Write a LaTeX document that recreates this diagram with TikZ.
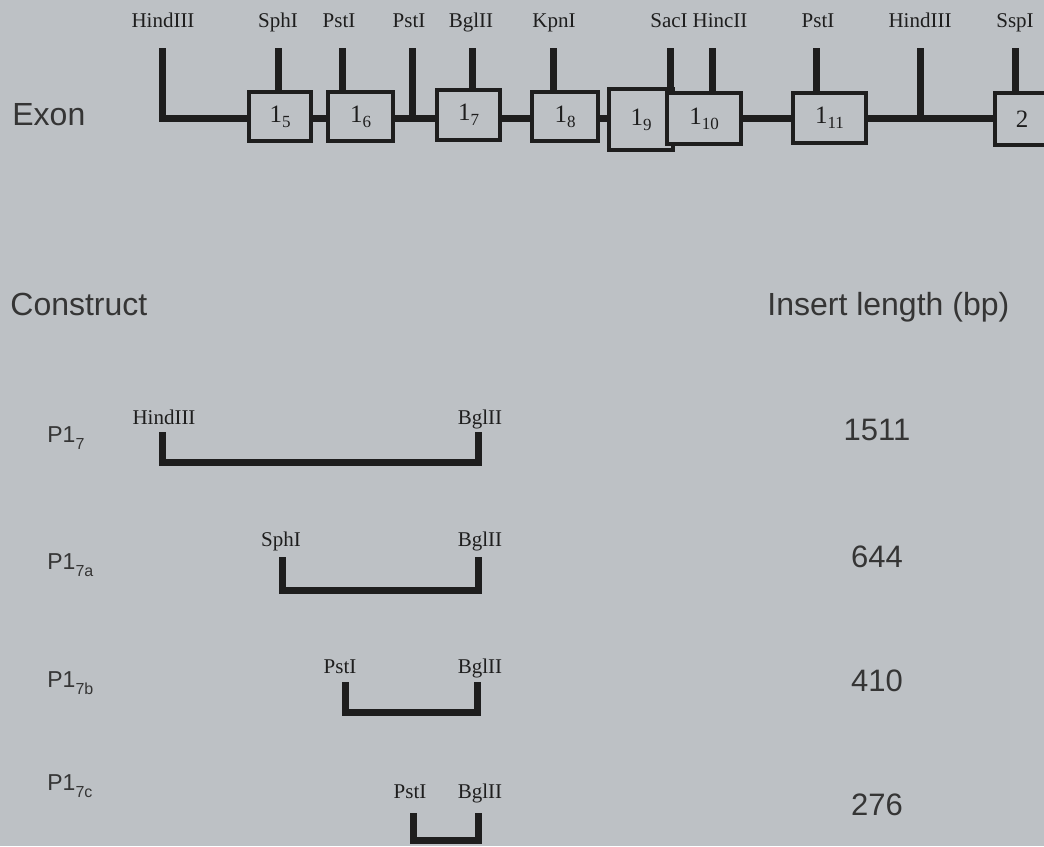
\documentclass[tikz,border=0pt]{standalone}
\usepackage{fontspec}
\setmainfont{Liberation Serif}
\newfontfamily\arialfont{Liberation Sans}
\usetikzlibrary{positioning}
\definecolor{paper}{RGB}{189,193,197}
\definecolor{ink}{RGB}{30,30,30}
\newcommand{\exonlab}[2]{#1\raisebox{-0.45ex}{\fontsize{8.5}{9}\selectfont #2}}
\newcommand{\conslab}[1]{P1\raisebox{-0.6ex}{\fontsize{8}{9}\selectfont #1}}
\tikzset{
  site/.style={font=\fontsize{10.5}{12}\selectfont, text=ink, inner sep=0pt, anchor=base},
  head/.style={font=\arialfont\fontsize{16}{19}\selectfont, text=ink!90, inner sep=0pt, anchor=base west},
  cons/.style={font=\arialfont\fontsize{11.5}{13}\selectfont, text=ink!90, inner sep=0pt, anchor=base west},
  bp/.style={font=\arialfont\fontsize{15.5}{18}\selectfont, text=ink!90, inner sep=0pt, anchor=base},
  exon/.style={draw=ink, line width=1.7pt, fill=paper, inner sep=0pt, font=\fontsize{12.5}{14}\selectfont, text=ink},
  cut/.style={draw=ink, line width=3.5pt},
  insert/.style={draw=ink, line width=3.5pt, line join=miter}
}
\begin{document}
\begin{tikzpicture}[x=0.5pt, y=-0.5pt]
    \fill[paper] (0,0) rectangle (1044,846);
    \useasboundingbox (0,0) rectangle (1044,846);
    \clip (0,0) rectangle (1044,846);
    % gene backbone
    \coordinate (hA) at (162,48);
    \coordinate (e2w) at (995,118);
    \draw[cut, line join=miter] (hA) -- (162,118) -- (e2w);
    % restriction sites on the gene
    \foreach \tx/\lx/\name [count=\i] in {162/163/HindIII, 278/278/SphI, 342/339/PstI, 412/409/PstI,
        472/471/BglII, 553/554/KpnI, 670/669/SacI, 712/720/HincII, 816/818/PstI, 920/920/HindIII, 1015/1015/SspI} {
      \node[site] (s\i) at (\lx,27) {\name};
      \coordinate (k\i) at (\tx,48);
      \coordinate (b\i) at (\tx,118);
      \draw[cut] (k\i) -- (b\i);
    }
    % exons
    \foreach \n/\cx/\cy/\w/\h in {5/280/116.5/62/49, 6/360.5/116.5/65/49, 7/468.5/115/63/50, 8/565/116.5/66/49,
        9/641/119.5/64/61, 10/704/118.5/74/51, 11/829.5/118/73/50} {
      \node[exon, minimum width=\w*0.5pt, minimum height=\h*0.5pt] (e\n) at (\cx,\cy) {\exonlab{1}{\n}};
    }
    \node[exon, minimum width=27pt, minimum height=26pt] (e2) at (1022,119) {2};
    \node[head] (exon) at (12,125) {Exon};
    % constructs
    \node[head] (construct) at (10,315) {Construct};
    \node[head] (insert) at (767,315) {Insert length (bp)};

    \node[cons] (p7) at (47,442) {\conslab{7}};
    \node[site] (h7) at (164,424) {HindIII};
    \node[site] (g7) at (480,424) {BglII};
    \coordinate (h7t) at (162,432);
    \coordinate (g7t) at (478,432);
    \draw[insert] (h7t) -- ++(0,30) -| (g7t);
    \node[bp] (n7) at (877,440) {1511};

    \node[cons] (p7a) at (47,569) {\conslab{7a}};
    \node[site] (s7a) at (281,546) {SphI};
    \node[site] (g7a) at (480,546) {BglII};
    \coordinate (s7at) at (282,557);
    \coordinate (g7at) at (478,557);
    \draw[insert] (s7at) -- ++(0,33) -| (g7at);
    \node[bp] (n7a) at (877,567) {644};

    \node[cons] (p7b) at (47,687) {\conslab{7b}};
    \node[site] (q7b) at (340,673) {PstI};
    \node[site] (g7b) at (480,673) {BglII};
    \coordinate (q7bt) at (345,682);
    \coordinate (g7bt) at (477,682);
    \draw[insert] (q7bt) -- ++(0,30) -| (g7bt);
    \node[bp] (n7b) at (877,691) {410};

    \node[cons] (p7c) at (47,790) {\conslab{7c}};
    \node[site] (q7c) at (410,798) {PstI};
    \node[site] (g7c) at (480,798) {BglII};
    \coordinate (q7ct) at (413,813);
    \coordinate (g7ct) at (478,813);
    \draw[insert] (q7ct) -- ++(0,27) -| (g7ct);
    \node[bp] (n7c) at (877,815) {276};
\end{tikzpicture}
\end{document}
